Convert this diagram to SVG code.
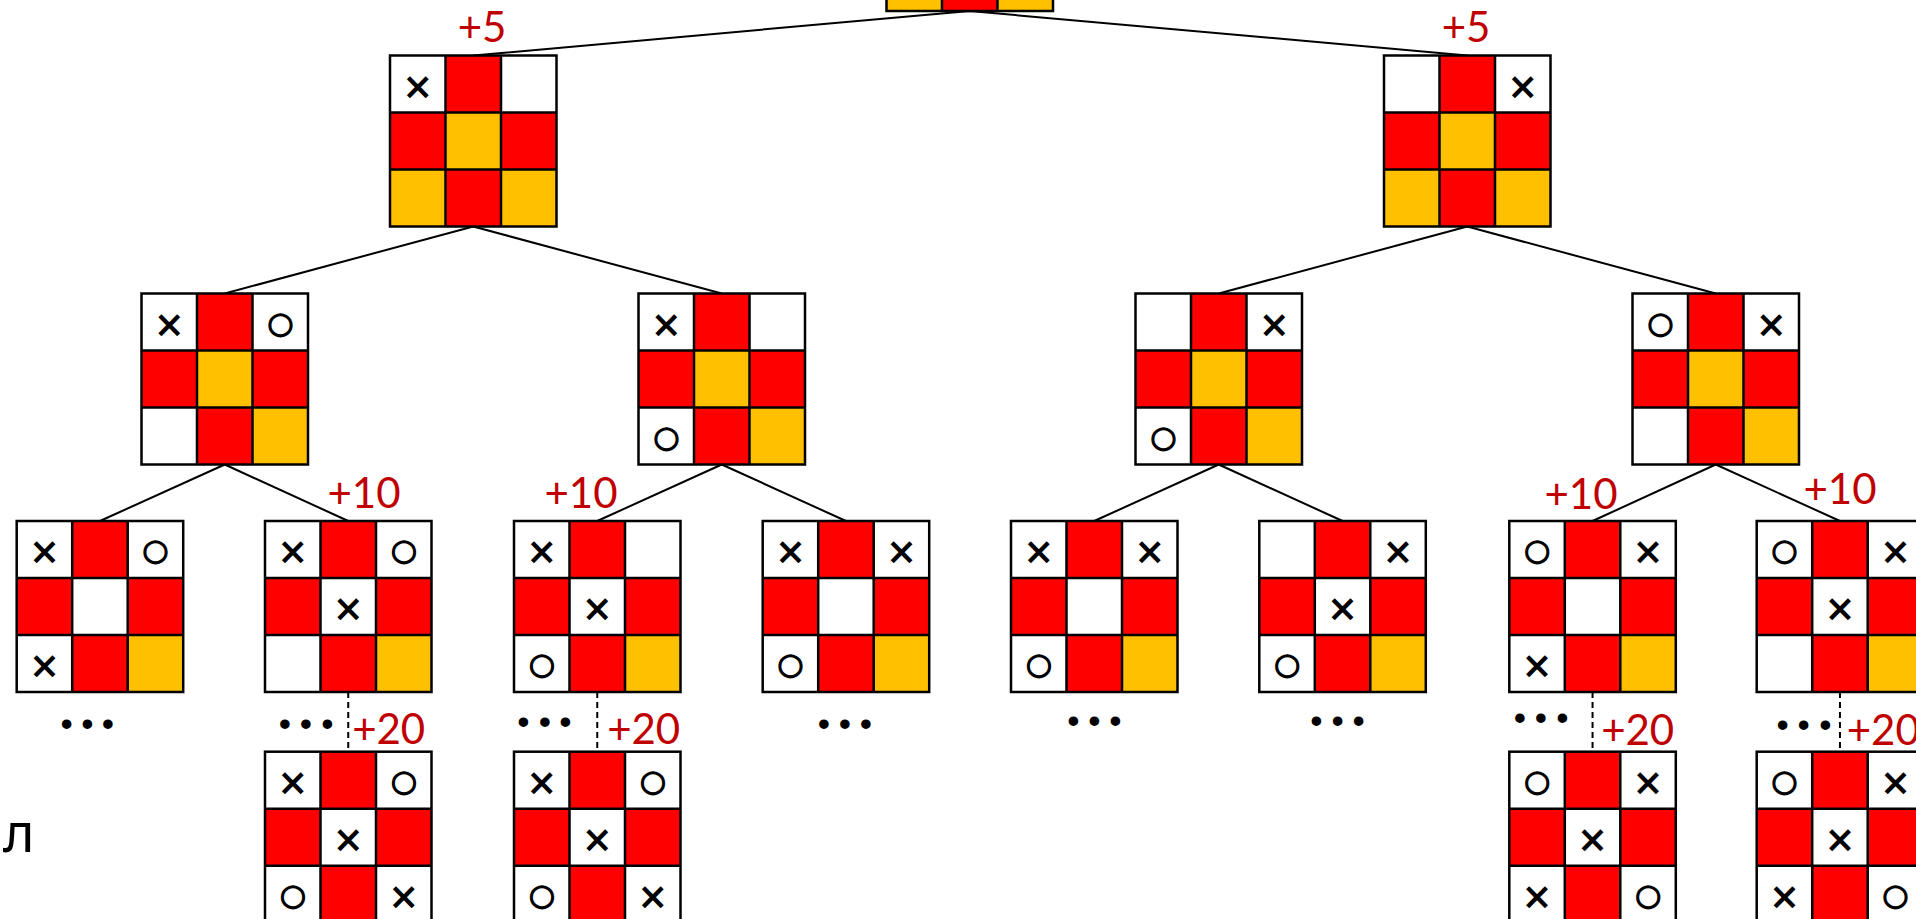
<svg xmlns="http://www.w3.org/2000/svg" xmlns:xlink="http://www.w3.org/1999/xlink" width="1916" height="919" viewBox="0 0 1916 919">
<style>
.r{fill:#FF0000}
.y{fill:#FFC000}
.bg{fill:#FFFFFF}
.gl{fill:none;stroke:#000;stroke-width:2.5}
.x{font-family:"DejaVu Sans",sans-serif;font-size:37px;font-weight:bold;text-anchor:middle;dominant-baseline:central;fill:#000}
.o{font-family:"DejaVu Sans",sans-serif;font-size:30px;text-anchor:middle;dominant-baseline:central;fill:#000;stroke:#000;stroke-width:1.3}
.lbl{font-family:Lato,"Open Sans",sans-serif;font-size:42px;fill:#C00000;text-anchor:middle}
.dots{font-family:"Liberation Sans",sans-serif;font-size:35px;text-anchor:middle;dominant-baseline:central;fill:#000}
.ln{stroke:#000;stroke-width:2;fill:none}
.dash{stroke-dasharray:6 4}
.cy{font-family:"Noto Sans","Open Sans",sans-serif;font-size:54px;fill:#000}
</style>
<defs>
<g id="grid">
<rect class="gl" x="0" y="0" width="166.5" height="171"/>
<path class="gl" d="M55.5 0V171M111 0V171M0 57H166.5M0 114H166.5"/>
</g>
<g id="cA">
<rect class="bg" x="0" y="0" width="166.5" height="171"/>
<rect class="r" x="55.5" y="0" width="55.5" height="57"/>
<rect class="r" x="0" y="57" width="55.5" height="57"/>
<rect class="y" x="55.5" y="57" width="55.5" height="57"/>
<rect class="r" x="111" y="57" width="55.5" height="57"/>
<rect class="y" x="0" y="114" width="55.5" height="57"/>
<rect class="r" x="55.5" y="114" width="55.5" height="57"/>
<rect class="y" x="111" y="114" width="55.5" height="57"/>
<use xlink:href="#grid"/>
</g>
<g id="cB">
<rect class="bg" x="0" y="0" width="166.5" height="171"/>
<rect class="r" x="55.5" y="0" width="55.5" height="57"/>
<rect class="r" x="0" y="57" width="55.5" height="57"/>
<rect class="y" x="55.5" y="57" width="55.5" height="57"/>
<rect class="r" x="111" y="57" width="55.5" height="57"/>
<rect class="r" x="55.5" y="114" width="55.5" height="57"/>
<rect class="y" x="111" y="114" width="55.5" height="57"/>
<use xlink:href="#grid"/>
</g>
<g id="cC">
<rect class="bg" x="0" y="0" width="166.5" height="171"/>
<rect class="r" x="55.5" y="0" width="55.5" height="57"/>
<rect class="r" x="0" y="57" width="55.5" height="57"/>
<rect class="r" x="111" y="57" width="55.5" height="57"/>
<rect class="r" x="55.5" y="114" width="55.5" height="57"/>
<rect class="y" x="111" y="114" width="55.5" height="57"/>
<use xlink:href="#grid"/>
</g>
<g id="cD">
<rect class="bg" x="0" y="0" width="166.5" height="171"/>
<rect class="r" x="55.5" y="0" width="55.5" height="57"/>
<rect class="r" x="0" y="57" width="55.5" height="57"/>
<rect class="r" x="111" y="57" width="55.5" height="57"/>
<rect class="r" x="55.5" y="114" width="55.5" height="57"/>
<use xlink:href="#grid"/>
</g>
</defs>
<rect x="0" y="0" width="1916" height="919" fill="#FFFFFF"/>

<g id="connectors">
<path class="ln" d="M969.75 11L473.25 55.5M969.75 11L1467.25 55.5"/>
<path class="ln" d="M473.25 226.5L224.75 293.5M473.25 226.5L721.75 293.5M1467.25 226.5L1218.75 293.5M1467.25 226.5L1715.75 293.5"/>
<path class="ln" d="M224.75 464.5L99.95 521M224.75 464.5L348.25 521M721.75 464.5L597.25 521M721.75 464.5L845.95 521M1218.75 464.5L1094.25 521M1218.75 464.5L1342.55 521M1715.75 464.5L1592.55 521M1715.75 464.5L1839.95 521"/>
<path class="ln dash" d="M348.25 692V751.7M597.25 692V751.7M1592.55 692V751.7M1839.95 692V751.7"/>
</g>

<g id="root" transform="translate(886.5,-160)"><use xlink:href="#cA"/></g>

<g id="n1a" transform="translate(390,55.5)"><use xlink:href="#cA"/>
<text class="x" x="27.75" y="30.5">×</text></g>
<g id="n1b" transform="translate(1384,55.5)"><use xlink:href="#cA"/>
<text class="x" x="138.75" y="30.5">×</text></g>

<g id="n2a" transform="translate(141.5,293.5)"><use xlink:href="#cB"/>
<text class="x" x="27.75" y="30.5">×</text><text class="o" x="138.75" y="28.5">○</text></g>
<g id="n2b" transform="translate(638.5,293.5)"><use xlink:href="#cB"/>
<text class="x" x="27.75" y="30.5">×</text><text class="o" x="27.75" y="142.5">○</text></g>
<g id="n2c" transform="translate(1135.5,293.5)"><use xlink:href="#cB"/>
<text class="x" x="138.75" y="30.5">×</text><text class="o" x="27.75" y="142.5">○</text></g>
<g id="n2d" transform="translate(1632.5,293.5)"><use xlink:href="#cB"/>
<text class="o" x="27.75" y="28.5">○</text><text class="x" x="138.75" y="30.5">×</text></g>

<g id="n3a" transform="translate(16.7,521)"><use xlink:href="#cC"/>
<text class="x" x="27.75" y="30.5">×</text><text class="o" x="138.75" y="28.5">○</text><text class="x" x="27.75" y="144.5">×</text></g>
<g id="n3b" transform="translate(265,521)"><use xlink:href="#cC"/>
<text class="x" x="27.75" y="30.5">×</text><text class="o" x="138.75" y="28.5">○</text><text class="x" x="83.25" y="87.5">×</text></g>
<g id="n3c" transform="translate(514,521)"><use xlink:href="#cC"/>
<text class="x" x="27.75" y="30.5">×</text><text class="x" x="83.25" y="87.5">×</text><text class="o" x="27.75" y="142.5">○</text></g>
<g id="n3d" transform="translate(762.7,521)"><use xlink:href="#cC"/>
<text class="x" x="27.75" y="30.5">×</text><text class="x" x="138.75" y="30.5">×</text><text class="o" x="27.75" y="142.5">○</text></g>
<g id="n3e" transform="translate(1011,521)"><use xlink:href="#cC"/>
<text class="x" x="27.75" y="30.5">×</text><text class="x" x="138.75" y="30.5">×</text><text class="o" x="27.75" y="142.5">○</text></g>
<g id="n3f" transform="translate(1259.3,521)"><use xlink:href="#cC"/>
<text class="x" x="138.75" y="30.5">×</text><text class="x" x="83.25" y="87.5">×</text><text class="o" x="27.75" y="142.5">○</text></g>
<g id="n3g" transform="translate(1509.3,521)"><use xlink:href="#cC"/>
<text class="o" x="27.75" y="28.5">○</text><text class="x" x="138.75" y="30.5">×</text><text class="x" x="27.75" y="144.5">×</text></g>
<g id="n3h" transform="translate(1756.7,521)"><use xlink:href="#cC"/>
<text class="o" x="27.75" y="28.5">○</text><text class="x" x="138.75" y="30.5">×</text><text class="x" x="83.25" y="87.5">×</text></g>

<g id="n4b" transform="translate(265,751.7)"><use xlink:href="#cD"/>
<text class="x" x="27.75" y="30.5">×</text><text class="o" x="138.75" y="28.5">○</text><text class="x" x="83.25" y="87.5">×</text><text class="o" x="27.75" y="142.5">○</text><text class="x" x="138.75" y="144.5">×</text></g>
<g id="n4c" transform="translate(514,751.7)"><use xlink:href="#cD"/>
<text class="x" x="27.75" y="30.5">×</text><text class="o" x="138.75" y="28.5">○</text><text class="x" x="83.25" y="87.5">×</text><text class="o" x="27.75" y="142.5">○</text><text class="x" x="138.75" y="144.5">×</text></g>
<g id="n4g" transform="translate(1509.3,751.7)"><use xlink:href="#cD"/>
<text class="o" x="27.75" y="28.5">○</text><text class="x" x="138.75" y="30.5">×</text><text class="x" x="83.25" y="87.5">×</text><text class="x" x="27.75" y="144.5">×</text><text class="o" x="138.75" y="142.5">○</text></g>
<g id="n4h" transform="translate(1756.7,751.7)"><use xlink:href="#cD"/>
<text class="o" x="27.75" y="28.5">○</text><text class="x" x="138.75" y="30.5">×</text><text class="x" x="83.25" y="87.5">×</text><text class="x" x="27.75" y="144.5">×</text><text class="o" x="138.75" y="142.5">○</text></g>

<g id="labels">
<text class="lbl" x="482" y="42">+5</text>
<text class="lbl" x="1466" y="42">+5</text>
<text class="lbl" x="364" y="508">+10</text>
<text class="lbl" x="581" y="508">+10</text>
<text class="lbl" x="1581" y="509">+10</text>
<text class="lbl" x="1840" y="504">+10</text>
<text class="lbl" x="388.7" y="743.5">+20</text>
<text class="lbl" x="643.7" y="744">+20</text>
<text class="lbl" x="1637.7" y="745">+20</text>
<text class="lbl" x="1883.3" y="745">+20</text>
</g>

<g id="ellipses">
<text class="dots" x="66.7 87.3 108" y="723.7">•••</text>
<text class="dots" x="285 306 327.3" y="723.3">•••</text>
<text class="dots" x="523.3 545 565.3" y="721">•••</text>
<text class="dots" x="824 845 866" y="723.3">•••</text>
<text class="dots" x="1073.3 1094.3 1115.3" y="720.7">•••</text>
<text class="dots" x="1316.5 1337.7 1358.7" y="720">•••</text>
<text class="dots" x="1520 1541 1562.3" y="717">•••</text>
<text class="dots" x="1782.7 1803.7 1825.3" y="724.3">•••</text>
</g>

<text class="cy" x="3" y="851.7">л</text>
</svg>
